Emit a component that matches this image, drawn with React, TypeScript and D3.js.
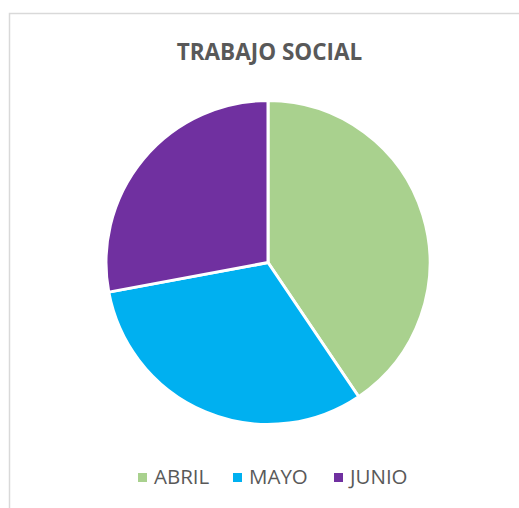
import React from "react";
import * as d3 from "d3";

const categories = ["ABRIL", "MAYO", "JUNIO"];
const values = [45, 35, 31];
const colors = ["#a9d18e", "#00b0f0", "#7030a0"];
const title = "TRABAJO SOCIAL";

export default function App() {
  const W = 519, H = 508;
  const cx = 268, cy = 262.5, r = 162;
  const pie = d3.pie<number>().sort(null).value((d) => d)(values);
  const arc = d3.arc<d3.PieArcDatum<number>>().innerRadius(0).outerRadius(r);
  const legendX = [138, 233, 334];
  return (
    <svg width={W} height={H} style={{ position: "absolute", left: 0, top: 0 }}>
      <rect x={0} y={0} width={W} height={H} fill="#fff" />
      <rect x={9.5} y={13.5} width={W} height={H} fill="#fff" stroke="#d9d9d9" strokeWidth={1.5} />
      <text x={269.5} y={60} textAnchor="middle" fontFamily="Open Sans" fontWeight="bold" fontSize={22.5} fill="#595959">
        {title}
      </text>
      <g transform={`translate(${cx},${cy})`}>
        {pie.map((p, i) => (
          <path key={i} d={arc(p) || ""} fill={colors[i]} stroke="#fff" strokeWidth={3} strokeLinejoin="round" />
        ))}
      </g>
      {categories.map((c, i) => (
        <g key={c}>
          <rect x={legendX[i]} y={473} width={9} height={9} fill={colors[i]} />
          <text x={legendX[i] + 16} y={484} fontFamily="Open Sans" fontSize={20.5} fill="#595959">
            {c}
          </text>
        </g>
      ))}
    </svg>
  );
}
